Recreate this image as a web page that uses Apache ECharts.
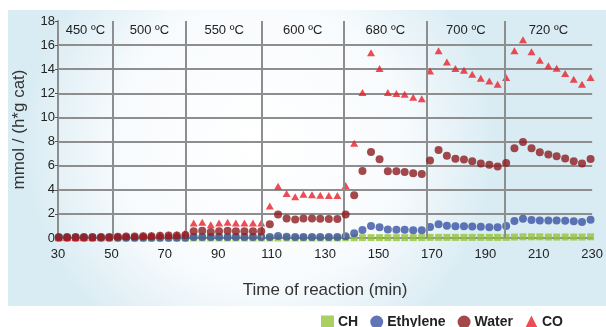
<!DOCTYPE html>
<html>
<head>
<meta charset="utf-8">
<script src="https://cdn.jsdelivr.net/npm/echarts@6/dist/echarts.min.js"></script>
<style>
  html, body { margin: 0; padding: 0; background: #fff; }
  #main { width: 606px; height: 327px; }
</style>
</head>
<body>
<div id="main"></div>
<script>
var chartDom = document.getElementById('main');
var myChart = echarts.init(chartDom);
var option;

// time of each sample (min)
let times = [30.3, 33.4, 36.6, 39.7, 42.9, 46.1, 49.2, 52.4, 55.5, 58.7,
  61.9, 65.0, 68.2, 71.4, 74.5, 77.7, 80.8, 84.0, 87.2, 90.3,
  93.5, 96.6, 99.8, 103.0, 106.1, 109.3, 112.4, 115.6, 118.8, 121.9,
  125.1, 128.2, 131.4, 134.6, 137.7, 140.9, 144.0, 147.2, 150.4, 153.5,
  156.7, 159.8, 163.0, 166.2, 169.3, 172.5, 175.6, 178.8, 182.0, 185.1,
  188.3, 191.5, 194.6, 197.8, 200.9, 204.1, 207.3, 210.4, 213.6, 216.7,
  219.9, 223.1, 226.2, 229.4];

let ch = [0, 0, 0, 0, 0, 0, 0, 0, 0, 0,
  0, 0, 0, 0, 0, 0, 0, 0, 0, 0,
  0, 0, 0, 0, 0, 0, 0, 0, 0, 0,
  0, 0, 0, 0, 0.02, 0.02, 0.03, 0.03, 0.03, 0.03,
  0.03, 0.03, 0.03, 0.03, 0.05, 0.05, 0.05, 0.05, 0.05, 0.05,
  0.05, 0.05, 0.05, 0.05, 0.08, 0.1, 0.1, 0.1, 0.08, 0.08,
  0.08, 0.08, 0.08, 0.1];

let ethylene = [0.02, 0.02, 0.02, 0.02, 0.02, 0.02, 0.02, 0.02, 0.02, 0.02,
  0.02, 0.02, 0.02, 0.02, 0.02, 0.03, 0.08, 0.08, 0.08, 0.08,
  0.08, 0.08, 0.08, 0.08, 0.08, 0.08, 0.17, 0.1, 0.08, 0.08,
  0.08, 0.08, 0.08, 0.08, 0.14, 0.39, 0.67, 1.0, 0.9, 0.7,
  0.68, 0.68, 0.65, 0.65, 0.92, 1.15, 1.02, 0.97, 0.97, 0.95,
  0.93, 0.9, 0.9, 1.0, 1.4, 1.6, 1.5, 1.45, 1.45, 1.45,
  1.43, 1.38, 1.32, 1.52];

let water = [0.08, 0.08, 0.08, 0.08, 0.08, 0.08, 0.08, 0.1, 0.12, 0.12,
  0.15, 0.15, 0.18, 0.2, 0.2, 0.25, 0.55, 0.6, 0.5, 0.55,
  0.6, 0.55, 0.55, 0.55, 0.55, 1.15, 1.95, 1.62, 1.53, 1.62,
  1.62, 1.6, 1.58, 1.58, 1.95, 3.55, 5.55, 7.14, 6.53, 5.53,
  5.53, 5.48, 5.37, 5.3, 6.42, 7.3, 6.83, 6.58, 6.52, 6.36,
  6.17, 6.08, 5.94, 6.22, 7.44, 7.97, 7.44, 7.11, 6.92, 6.78,
  6.6, 6.36, 6.17, 6.56];

let co = [0.05, 0.05, 0.05, 0.05, 0.05, 0.08, 0.08, 0.12, 0.15, 0.15,
  0.2, 0.22, 0.25, 0.25, 0.28, 0.45, 1.25, 1.3, 1.1, 1.25,
  1.3, 1.25, 1.25, 1.25, 1.25, 2.65, 4.3, 3.7, 3.42, 3.62,
  3.58, 3.55, 3.52, 3.52, 4.35, 7.86, 12.06, 15.36, 14.07, 12.06,
  11.98, 11.92, 11.68, 11.56, 13.86, 15.53, 14.6, 14.06, 13.92, 13.58,
  13.25, 13.03, 12.75, 13.31, 15.53, 16.44, 15.44, 14.75, 14.28, 14.08,
  13.64, 13.17, 12.75, 13.31];

// temperature steps: edges on the time axis and their labels
let stepEdges = [30, 50.5, 78, 106.4, 136.9, 168.2, 197.2, 230];
let stepLabels = ['450 ºC', '500 ºC', '550 ºC', '600 ºC', '680 ºC', '700 ºC', '720 ºC'];

let legendNames = ['CH', 'Ethylene', 'Water', 'CO'];

function pairs(ys) {
  return ys.map(function (y, i) { return [times[i], y]; });
}

let gridColor = '#8e8e8e';
let font = "'Liberation Sans', Arial, sans-serif";

let areas = [];
for (let i = 0; i < stepLabels.length; i++) {
  areas.push([{ xAxis: stepEdges[i], name: stepLabels[i] }, { xAxis: stepEdges[i + 1] }]);
}
let vlines = [];
for (let i = 1; i < stepEdges.length - 1; i++) {
  vlines.push({ xAxis: stepEdges[i] });
}

option = {
  animation: false,
  textStyle: { fontFamily: font },
  graphic: [
    {
      type: 'rect',
      z: -10,
      shape: { x: 8, y: 10, width: 598, height: 296 },
      style: {
        fill: new echarts.graphic.RadialGradient(0.42, 0.45, 0.8, [
          { offset: 0, color: '#ffffff' },
          { offset: 0.6, color: '#f8fbfd' },
          { offset: 1, color: '#d9ecf3' }
        ])
      }
    }
  ],
  grid: { left: 58, right: 11, top: 21, bottom: 89 },
  legend: {
    data: legendNames,
    left: 316,
    top: 310,
    itemWidth: 13,
    itemHeight: 13,
    itemGap: 12,
    textStyle: { fontFamily: font, fontSize: 14, fontWeight: 'bold', color: '#222', padding: [0, 0, 0, -1] }
  },
  xAxis: {
    type: 'value',
    min: 30,
    max: 230,
    interval: 20,
    name: 'Time of reaction (min)',
    nameLocation: 'middle',
    nameGap: 44,
    nameTextStyle: { fontSize: 17, color: '#333', fontFamily: font },
    axisLine: { show: true, onZero: false, lineStyle: { color: gridColor, width: 2 } },
    axisTick: { show: false },
    axisLabel: { fontSize: 13, color: '#222', margin: 10 },
    splitLine: { show: false }
  },
  yAxis: {
    type: 'value',
    min: 0,
    max: 18,
    interval: 2,
    name: 'mmol / (h*g cat)',
    nameLocation: 'middle',
    nameRotate: 90,
    nameGap: 30,
    nameTextStyle: { fontSize: 17, color: '#333', fontFamily: font },
    axisLine: { show: true, lineStyle: { color: gridColor, width: 2 } },
    axisTick: { show: true, length: 3, lineStyle: { color: '#555', width: 1 } },
    axisLabel: { fontSize: 13, color: '#222', margin: 3 },
    splitLine: { show: true, showMaxLine: false, lineStyle: { color: gridColor, width: 2 } }
  },
  series: [
    {
      name: 'CH',
      type: 'scatter',
      symbol: 'rect',
      symbolSize: 7,
      z: 2,
      itemStyle: { color: '#95c43a' },
      data: pairs(ch),
      markLine: {
        silent: true,
        symbol: 'none',
        label: { show: false },
        lineStyle: { color: gridColor, width: 2, type: 'solid' },
        data: vlines
      },
      markArea: {
        silent: true,
        itemStyle: { color: 'rgba(0,0,0,0)' },
        label: { show: true, position: 'insideTop', distance: 3, fontSize: 13, color: '#222', fontFamily: font },
        data: areas
      }
    },
    {
      name: 'Ethylene',
      type: 'scatter',
      symbol: 'circle',
      symbolSize: 8,
      z: 3,
      itemStyle: { color: '#3a52a4' },
      data: pairs(ethylene)
    },
    {
      name: 'Water',
      type: 'scatter',
      symbol: 'circle',
      symbolSize: 8,
      z: 5,
      itemStyle: { color: '#8c1c1f' },
      data: pairs(water)
    },
    {
      name: 'CO',
      type: 'scatter',
      symbol: 'triangle',
      symbolSize: [8, 7],
      z: 4,
      itemStyle: { color: '#e8202a' },
      data: pairs(co)
    }
  ]
};

option && myChart.setOption(option);
</script>
</body>
</html>
